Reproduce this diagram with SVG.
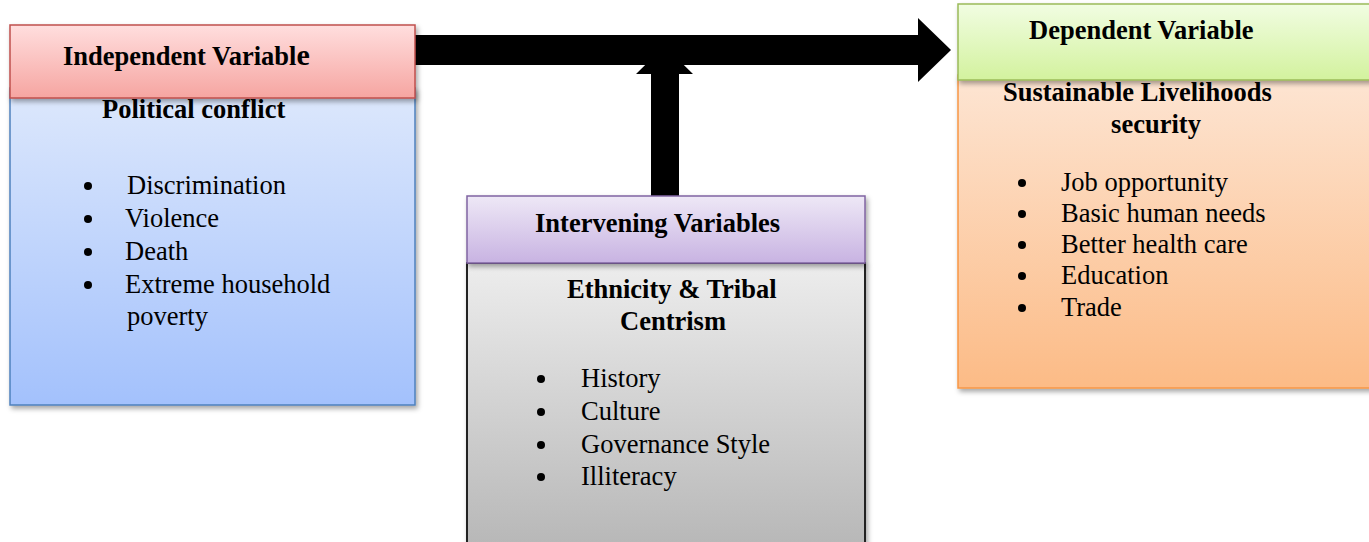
<svg xmlns="http://www.w3.org/2000/svg" width="1369" height="542" viewBox="0 0 1369 542">
<defs>
<linearGradient id="gRed" x1="0" y1="0" x2="0" y2="1"><stop offset="0" stop-color="#ffdede"/><stop offset="1" stop-color="#f6a5a1"/></linearGradient>
<linearGradient id="gBlue" x1="0" y1="0" x2="0" y2="1"><stop offset="0" stop-color="#dde8fc"/><stop offset="1" stop-color="#a3c1fc"/></linearGradient>
<linearGradient id="gPurple" x1="0" y1="0" x2="0" y2="1"><stop offset="0" stop-color="#eee8f6"/><stop offset="1" stop-color="#c8b3e2"/></linearGradient>
<linearGradient id="gGray" x1="0" y1="0" x2="0" y2="1"><stop offset="0" stop-color="#ededed"/><stop offset="1" stop-color="#b6b6b6"/></linearGradient>
<linearGradient id="gGreen" x1="0" y1="0" x2="0" y2="1"><stop offset="0" stop-color="#f1fde2"/><stop offset="1" stop-color="#d3f29e"/></linearGradient>
<linearGradient id="gOrange" x1="0" y1="0" x2="0" y2="1"><stop offset="0" stop-color="#fde5d3"/><stop offset="1" stop-color="#fcbb86"/></linearGradient>
<filter id="sh" x="-5%" y="-5%" width="115%" height="120%"><feDropShadow dx="2" dy="3" stdDeviation="2.5" flood-color="#000" flood-opacity="0.35"/></filter>
<style>
.t{font-family:"Liberation Serif","Times New Roman",serif;font-size:26.5px;fill:#000}
.b{font-weight:bold}
.dot{fill:#000}
</style>
</defs>
<g id="connectors">
<polygon points="651,196 651,74 636,74 664.5,46 693,74 679,74 679,196" fill="#000"/>
<polygon points="415,35 918,35 918,18 951,50 918,82 918,65 415,65" fill="#000"/>
</g>
<g id="independent">
<rect x="10" y="88" width="405" height="317" fill="url(#gBlue)" stroke="#4f81bd" stroke-width="1.5" filter="url(#sh)"/>
<rect x="10" y="25" width="405" height="73" fill="url(#gRed)" stroke="#c0504d" stroke-width="1.5" filter="url(#sh)"/>
<text class="t b" x="63" y="65">Independent Variabl<tspan font-size="30">e</tspan></text>
<text class="t b" x="102" y="118">Political conflict</text>
<circle class="dot" cx="88" cy="186" r="4"/>
<circle class="dot" cx="88" cy="219" r="4"/>
<circle class="dot" cx="88" cy="252" r="4"/>
<circle class="dot" cx="88" cy="285" r="4"/>
<text class="t" x="127" y="194">Discrimination</text>
<text class="t" x="125" y="227">Violence</text>
<text class="t" x="125" y="260">Death</text>
<text class="t" x="125" y="293">Extreme household</text>
<text class="t" x="127" y="325">poverty</text>
</g>
<g id="intervening">
<rect x="467" y="263" width="398" height="290" fill="url(#gGray)" stroke="#222" stroke-width="2" filter="url(#sh)"/>
<rect x="467" y="196" width="398" height="67" fill="url(#gPurple)" stroke="#8064a2" stroke-width="1.5" filter="url(#sh)"/>
<text class="t b" x="535" y="232">Intervening Variables</text>
<text class="t b" x="567" y="298">Ethnicity &amp; Tribal</text>
<text class="t b" x="673" y="330" text-anchor="middle">Centrism</text>
<circle class="dot" cx="541" cy="379" r="4"/>
<circle class="dot" cx="541" cy="412" r="4"/>
<circle class="dot" cx="541" cy="445" r="4"/>
<circle class="dot" cx="541" cy="477" r="4"/>
<text class="t" x="581" y="387">History</text>
<text class="t" x="581" y="420">Culture</text>
<text class="t" x="581" y="453">Governance Style</text>
<text class="t" x="581" y="485">Illiteracy</text>
</g>
<g id="dependent">
<rect x="958" y="75" width="420" height="313" fill="url(#gOrange)" stroke="#f79646" stroke-width="1.5" filter="url(#sh)"/>
<rect x="958" y="4" width="420" height="76" fill="url(#gGreen)" stroke="#9bbb59" stroke-width="1.5" filter="url(#sh)"/>
<text class="t b" x="1029" y="39">Dependent Variable</text>
<text class="t b" x="1003" y="101">Sustainable Livelihoods</text>
<text class="t b" x="1156" y="133" text-anchor="middle">security</text>
<circle class="dot" cx="1022" cy="183" r="4"/>
<circle class="dot" cx="1022" cy="214" r="4"/>
<circle class="dot" cx="1022" cy="245" r="4"/>
<circle class="dot" cx="1022" cy="276" r="4"/>
<circle class="dot" cx="1022" cy="308" r="4"/>
<text class="t" x="1061" y="191">Job opportunity</text>
<text class="t" x="1061" y="222">Basic human needs</text>
<text class="t" x="1061" y="253">Better health care</text>
<text class="t" x="1061" y="284">Education</text>
<text class="t" x="1061" y="316">Trade</text>
</g>
</svg>
